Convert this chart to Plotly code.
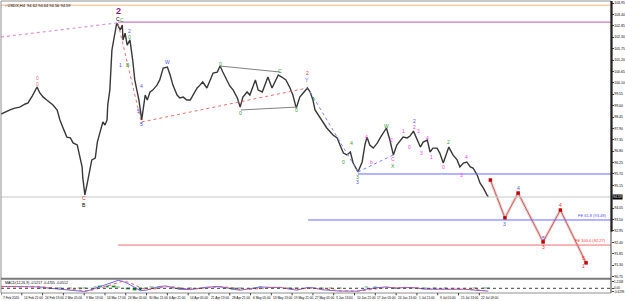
import plotly.graph_objects as go

# ---------------- data ----------------
bars = [0,6,13,20,27,35,39,45,49,52,56,61,66,71,75,81,85,89,95,100,104,110,114,117,118,121,124,128,131,136,139,143,147,150,153,154,157,160,165,167,172,175,176,179,182,186,190,193,196,199,203,208,211,215,219,225,229,234,240,244,248,254,258,263,268,273,277,283,287,291,297,302,306,312,316,320,326,330,335,341,345,349,355,359,367,371,377,381,385,391,395,400,405,411,417,421,426,431,436,442,446,450,453,460,465,470,479,485,489,494,499,504,508,514,515,521,525,528,532,537,543,547,551,556,561,566,571,576,580,586,590,595,600,605,609,615,619,623,629,633,638,644,646,652,658,662,667,672,677,681,687,691,696,701,703]
close = [98.59,98.69,98.79,98.88,98.93,99.08,99.13,99.46,99.75,99.90,99.61,99.41,99.27,99.13,99.03,98.79,98.31,97.97,97.48,97.44,97.20,97.10,96.47,96.04,95.51,94.69,95.17,95.89,96.38,96.47,97.24,97.73,98.21,98.06,98.31,99.03,99.75,101.68,102.74,102.99,102.65,102.89,102.17,102.50,101.92,102.17,101.20,100.24,99.75,99.27,98.31,99.51,99.27,99.66,99.75,99.99,100.24,100.81,100.86,100.48,99.99,99.51,99.37,99.41,99.27,99.27,99.51,99.85,99.99,100.14,99.85,100.24,100.57,100.62,100.91,100.62,100.24,99.95,99.75,99.37,98.93,99.41,99.66,99.51,100.24,99.75,99.66,99.99,100.38,99.85,100.14,100.48,100.38,100.24,99.85,99.51,98.88,99.41,99.61,99.85,99.66,99.27,98.79,98.45,98.21,97.92,97.58,97.44,97.10,96.71,96.62,96.76,96.23,95.89,95.80,96.28,97.10,97.48,97.10,96.95,97.20,97.44,97.68,97.92,97.34,96.62,97.10,97.34,97.48,97.44,97.53,97.77,97.34,97.00,97.24,97.34,96.76,96.95,96.95,96.71,96.23,96.76,97.00,96.62,96.38,96.04,96.23,96.28,96.04,95.99,95.65,95.27,95.02,94.69,94.59]

macd_bars = [0,27,56,71,85,100,114,121,128,136,143,154,163,169,175,183,193,201,209,218,229,238,247,258,273,283,294,312,323,335,345,359,374,388,403,417,427,442,450,463,475,489,504,515,527,540,556,569,583,597,612,626,641,655,670,684,698,703]
macd_main = [0.35,0.35,0.26,0.0,-0.17,-0.35,-0.43,-0.6,-0.35,0.0,0.43,0.87,1.21,1.47,1.30,0.87,0.17,-0.43,-0.35,0.0,0.35,0.43,0.17,-0.17,-0.26,0.0,0.17,0.35,0.17,-0.17,-0.35,-0.09,0.26,0.17,0.17,-0.17,-0.35,0.17,0.09,-0.26,-0.43,-0.52,-0.52,-0.52,-0.17,0.09,0.26,0.0,0.17,0.09,-0.17,-0.17,-0.26,-0.17,-0.17,-0.35,-0.52,-0.52]
macd_signal = [0.30,0.33,0.30,0.12,-0.05,-0.25,-0.38,-0.45,-0.45,-0.25,0.05,0.45,0.85,1.15,1.30,1.15,0.65,0.10,-0.20,-0.20,0.05,0.30,0.30,0.05,-0.15,-0.10,0.05,0.25,0.25,0.05,-0.20,-0.20,0.05,0.15,0.17,0.0,-0.20,0.0,0.05,-0.10,-0.30,-0.45,-0.52,-0.52,-0.35,-0.10,0.15,0.10,0.10,0.10,-0.05,-0.15,-0.20,-0.20,-0.17,-0.25,-0.42,-0.47]

proj_bars = [706,727,746,782,807,844]
proj_price = [95.41,93.58,94.78,92.42,93.96,91.41]

price_ticks = [103.95,103.40,102.85,102.30,101.75,101.20,100.65,100.10,99.55,99.00,98.45,97.90,97.35,96.80,96.25,95.70,95.15,94.05,93.50,92.95,92.40,91.85,91.30,90.75]
time_tick_bars = [0,30,60,90,120,150,180,210,240,270,300,330,360,390,420,450,480,510,540,570,600,630,660,690]
time_tick_text = ["7 Feb 2020","14 Feb 21:00","24 Feb 13:00","2 Mar 05:00","9 Mar 13:00","16 Mar 17:00","24 Mar 05:00","30 Mar 21:00","6 Apr 21:00","14 Apr 05:00","21 Apr 13:00","28 Apr 21:00","6 May 05:00","13 May 13:00","19 May 21:00","27 May 05:00","3 Jun 13:00","10 Jun 21:00","17 Jun 05:00","24 Jun 13:00","1 Jul 21:00","9 Jul 05:00","15 Jul 13:00","22 Jul 09:00"]

last_price = 94.59
level_orange = 103.85
level_purple = 103.03
level_blue_hi = 95.70
level_fe618 = 93.48
level_fe100 = 92.27

# wave labels: (bar, price, text, colour)
waves = [
    (52,100.33,"0","#e07070"),(52,100.04,"0","#e07070"),
    (120,94.54,"C","#c04040"),(120,94.20,"B","#000000"),
    (169,103.18,"C","#000000"),
    (175,103.13,"C","#2e9e2e"),(185,102.60,"2","#5050ff"),(185,102.31,"0","#2e9e2e"),
    (172,100.96,"1","#5050ff"),(183,100.96,"B","#2e9e2e"),
    (203,99.95,"4","#5050ff"),(199,98.74,"5","#5050ff"),(203,98.11,"5","#5050ff"),
    (240,101.10,"W","#5050ff"),
    (316,101.01,"0","#2e9e2e"),(346,98.64,"0","#2e9e2e"),(403,100.67,"C","#2e9e2e"),(427,98.79,"0","#2e9e2e"),
    (442,100.57,"2","#ff3030"),(442,100.24,"Y","#5050ff"),(451,99.32,"1","#2e9e2e"),
    (506,97.20,"4","#2e9e2e"),(494,96.28,"0","#2e9e2e"),(515,95.55,"3","#2e9e2e"),(515,95.31,"3","#5050ff"),
    (527,97.48,"4","#ff40ff"),(535,96.28,"b","#ff40ff"),(556,98.02,"W","#2e9e2e"),
    (563,97.34,"2","#ff40ff"),(566,96.40,"C","#ff40ff"),(566,96.09,"X","#2e9e2e"),
    (580,97.77,"1","#ff40ff"),(590,97.00,"0","#ff40ff"),(596,98.26,"2","#5050ff"),(596,97.97,"2","#ff40ff"),
    (602,97.77,"3","#ff40ff"),(607,96.71,"3","#ff40ff"),(615,97.44,"4","#ff40ff"),(621,96.52,"1","#ff40ff"),
    (638,96.04,"0","#ff40ff"),(646,97.24,"2","#2e9e2e"),(664,95.65,"3","#ff40ff"),(672,96.52,"4","#ff40ff"),
    (727,93.30,"3","#5050ff"),(746,95.00,"4","#5050ff"),(782,92.63,"5","#5050ff"),(782,92.20,"3","#ff3030"),
    (807,94.18,"4","#ff3030"),(840,91.65,"5","#ff3030"),(840,91.25,"1","#ff3030"),
]

FONT = "Liberation Sans"

# ---------------- figure ----------------
W, H = 625, 301
ML, MR, MT, MB = 1, 14, 1, 8
main_bottom = 0.0514
fig = go.Figure()

# price
fig.add_trace(go.Scatter(x=bars, y=close, mode="lines", line=dict(color="#383838", width=1.4),
                         hoverinfo="skip", yaxis="y"))

# projection zigzag (shadow + red)
fig.add_trace(go.Scatter(x=proj_bars, y=proj_price, mode="lines", line=dict(color="#d8d8d8", width=3),
                         hoverinfo="skip", yaxis="y"))
fig.add_trace(go.Scatter(x=proj_bars, y=proj_price, mode="lines+markers",
                         line=dict(color="#f05050", width=1),
                         marker=dict(color="#c00000", size=3.5, symbol="square"),
                         hoverinfo="skip", yaxis="y"))

# MACD panel
osma = [m - s for m, s in zip(macd_main, macd_signal)]
fig.add_trace(go.Bar(x=macd_bars, y=osma, marker_color="#008000", width=5, yaxis="y2", hoverinfo="skip"))
fig.add_trace(go.Scatter(x=macd_bars, y=macd_main, mode="lines", line=dict(color="#6a6aff", width=1),
                         yaxis="y2", hoverinfo="skip"))
fig.add_trace(go.Scatter(x=macd_bars, y=macd_signal, mode="lines", line=dict(color="#ff5050", width=1, dash="dot"),
                         yaxis="y2", hoverinfo="skip"))

shapes = []
def hline(x0, x1, y, color, width=1, dash="solid"):
    shapes.append(dict(type="line", xref="x", yref="y", x0=x0, x1=x1, y0=y, y1=y,
                       line=dict(color=color, width=width, dash=dash)))

def seg(x0, y0, x1, y1, color, width=1, dash="solid"):
    shapes.append(dict(type="line", xref="x", yref="y", x0=x0, x1=x1, y0=y0, y1=y1,
                       line=dict(color=color, width=width, dash=dash)))

XMAX = 880
hline(0, XMAX, level_orange, "#f0b48c", 1)
hline(169, XMAX, level_purple, "#c878c8", 1.2)
seg(0, 102.31, 167, 102.99, "#d898d8", 1.2, "dot")
hline(0, XMAX, last_price, "#c8c8c8", 1)
hline(515, XMAX, level_blue_hi, "#6a6aff", 1.2)
hline(443, XMAX, level_fe618, "#6a6aff", 1)
hline(169, XMAX, level_fe100, "#f07070", 1)
# wave connector lines
seg(169, 102.95, 203, 98.11, "#f07070", 1, "dot")
seg(203, 98.21, 442, 99.85, "#f07070", 1, "dot")
seg(316, 100.91, 403, 100.62, "#808080", 1)
seg(346, 98.79, 427, 98.93, "#808080", 1)
seg(446, 99.66, 515, 95.80, "#8080ff", 1, "dot")
seg(515, 95.80, 566, 96.62, "#8080ff", 1, "dot")

# MACD zero line
shapes.append(dict(type="line", xref="x", yref="y2", x0=0, x1=XMAX, y0=0, y1=0,
                   line=dict(color="#404040", width=1, dash="dot")))
# frame lines
shapes.append(dict(type="line", xref="paper", yref="paper", x0=0, x1=1, y0=1, y1=1, line=dict(color="#909090", width=1)))
shapes.append(dict(type="line", xref="paper", yref="paper", x0=0, x1=0, y0=0, y1=1, line=dict(color="#909090", width=1)))
shapes.append(dict(type="line", xref="paper", yref="paper", x0=0, x1=1, y0=main_bottom - 0.003, y1=main_bottom - 0.003,
                   line=dict(color="#7a7a7a", width=2)))
shapes.append(dict(type="line", xref="paper", yref="paper", x0=0, x1=1, y0=0, y1=0, line=dict(color="#909090", width=1)))
shapes.append(dict(type="line", xref="paper", yref="paper", x0=1, x1=1, y0=0, y1=1, line=dict(color="#404040", width=1)))
shapes.append(dict(type="line", xref="paper", yref="paper", x0=1.001, x1=1.001, y0=0.21, y1=1, line=dict(color="#202020", width=2)))

annotations = []
for b, p, t, c in waves:
    annotations.append(dict(x=b, y=p, xref="x", yref="y", text=t, showarrow=False,
                            font=dict(size=5, color=c, family=FONT)))
annotations.append(dict(x=169, y=103.56, xref="x", yref="y", text="<b>2</b>", showarrow=False,
                        font=dict(size=9, color="#8a1a8a", family=FONT)))

# title and MACD label
annotations.append(dict(x=0.004, y=1, xref="paper", yref="paper", xanchor="left", yanchor="top",
                        text="▫ USDX,H4  94.62 94.64 94.56 94.59", showarrow=False,
                        font=dict(size=4, color="#000000", family=FONT)))
annotations.append(dict(x=0.004, y=0.048, xref="paper", yref="paper", xanchor="left", yanchor="top",
                        text="MACD(12,26,9) -0.5217 -0.4705 -0.0512", showarrow=False,
                        font=dict(size=3.5, color="#000000", family=FONT)))
# FE labels
annotations.append(dict(x=0.995, y=level_fe618, xref="paper", yref="y", xanchor="right", yanchor="bottom",
                        text="FE 61.8 (93.48)", showarrow=False, font=dict(size=4, color="#5050ff", family=FONT)))
annotations.append(dict(x=0.995, y=level_fe100, xref="paper", yref="y", xanchor="right", yanchor="bottom",
                        text="FE 100.0 (92.27)", showarrow=False, font=dict(size=4, color="#ff3030", family=FONT)))
# current price tag
annotations.append(dict(x=1.002, y=last_price, xref="paper", yref="y", xanchor="left", yanchor="middle",
                        text="94.59", showarrow=False, bgcolor="#000000", borderpad=0,
                        font=dict(size=3.5, color="#ffffff", family=FONT)))
# time labels
for b, t in zip(time_tick_bars, time_tick_text):
    annotations.append(dict(x=b, y=-0.004, xref="x", yref="paper", xanchor="left", yanchor="top",
                            text=t, showarrow=False, font=dict(size=3.2, color="#000000", family=FONT)))
    shapes.append(dict(type="line", xref="x", yref="paper", x0=b, x1=b, y0=0, y1=-0.008,
                       line=dict(color="#404040", width=1)))

fig.update_layout(
    width=W, height=H, margin=dict(l=ML, r=MR, t=MT, b=MB),
    paper_bgcolor="white", plot_bgcolor="white", showlegend=False, bargap=0,
    xaxis=dict(range=[0, XMAX], showgrid=False, zeroline=False, showticklabels=False, anchor="y2", fixedrange=True),
    yaxis=dict(domain=[main_bottom, 1], range=[90.68, 104.05], side="right", showgrid=False, zeroline=False,
               tickvals=price_ticks, ticktext=[f"{v:.2f}" for v in price_ticks], ticks="outside", ticklen=1.5,
               tickcolor="#404040", tickfont=dict(size=3.5, color="#000000", family=FONT),
               anchor="x", automargin=False),
    yaxis2=dict(domain=[0, 0.045], range=[-0.87, 1.56], side="right", showgrid=False, zeroline=False,
                tickvals=[1.2168, 0, -0.6299], ticktext=["1.2168", "0.00", "-0.6299"], ticks="outside", ticklen=1.5,
                tickcolor="#404040", tickfont=dict(size=3, color="#000000", family=FONT),
                anchor="x", automargin=False),
    shapes=shapes, annotations=annotations,
)

fig.write_html("out.html")
